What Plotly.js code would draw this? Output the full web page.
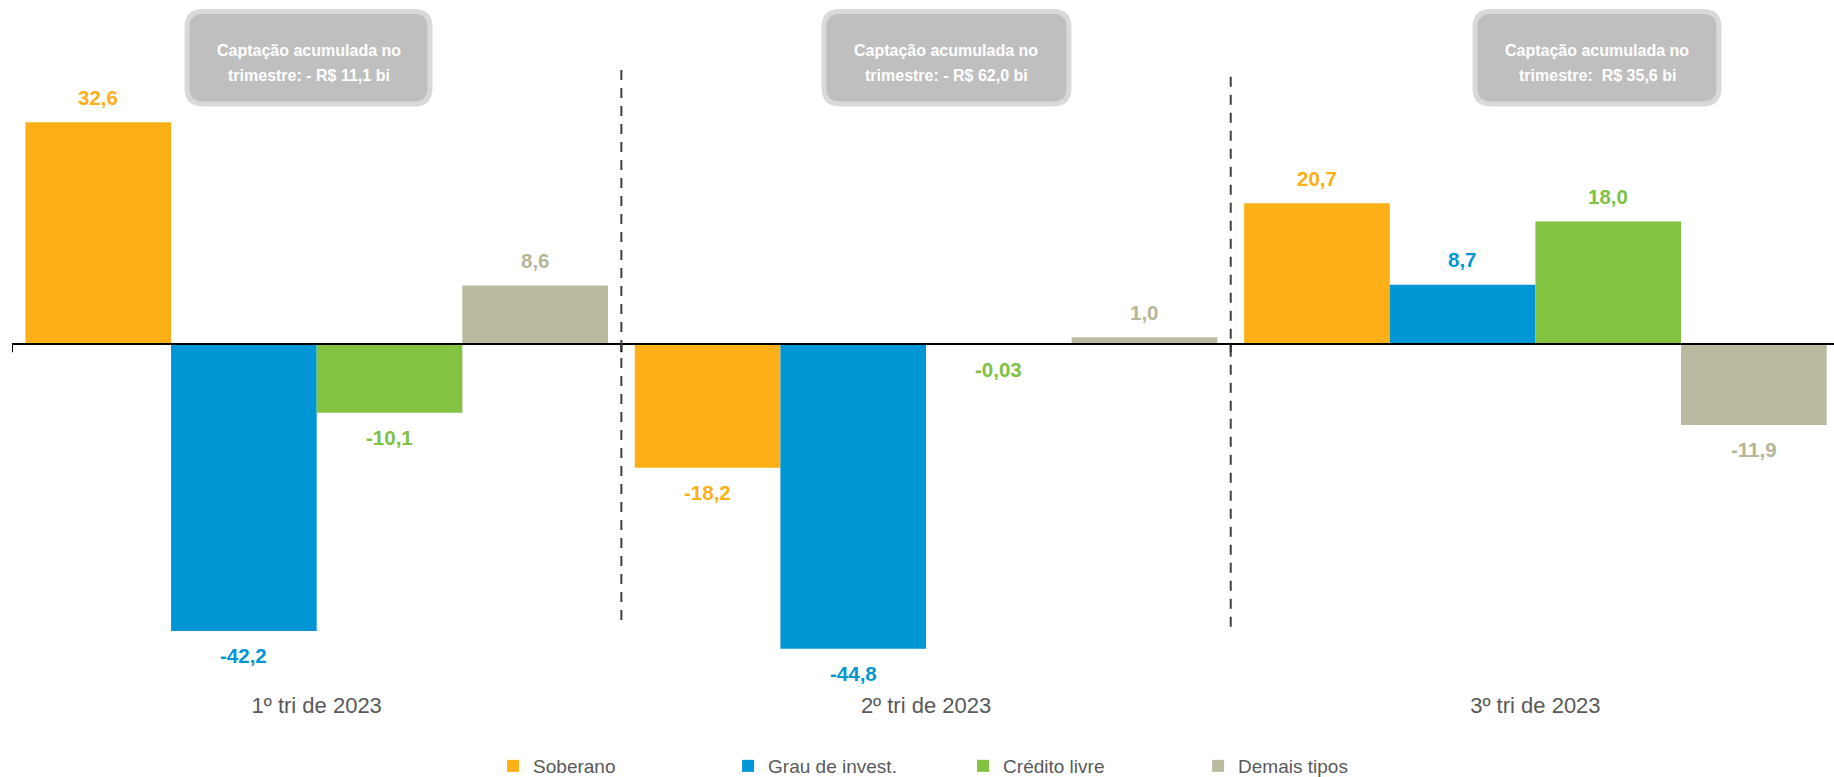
<!DOCTYPE html>
<html>
<head>
<meta charset="utf-8">
<script src="https://cdn.plot.ly/plotly-3.0.1.min.js"></script>
<style>html,body{margin:0;padding:0;background:#fff;}#chart{width:1834px;height:777px;}</style>
</head>
<body>
<div id="chart"></div>
<script>
// ---- data ----
const categories = ["1º tri de 2023", "2º tri de 2023", "3º tri de 2023"];
const seriesNames = ["Soberano", "Grau de invest.", "Crédito livre", "Demais tipos"];
const soberano = [32.6, -18.2, 20.7];
const grauInvest = [-42.2, -44.8, 8.7];
const creditoLivre = [-10.1, -0.03, 18.0];
const demaisTipos = [8.6, 1.0, -11.9];
const boxLine1 = ["Captação acumulada no", "Captação acumulada no", "Captação acumulada no"];
const boxLine2 = ["trimestre: - R$ 11,1 bi", "trimestre: - R$ 62,0 bi", "trimestre:\u00a0 R$ 35,6 bi"];

// ---- styles ----
const colors = ["#FCAF17", "#0096D6", "#82C341", "#BABAA0"];
const labelColors = ["#FCAF17", "#0096D6", "#7DC242", "#B5B598"];
const FONT = "Liberation Sans, Arial, sans-serif";
const seriesValues = [soberano, grauInvest, creditoLivre, demaisTipos];

const W = 1834, H = 777;
const M = {l: 12, r: 0, t: 20, b: 87};
const PW = W - M.l - M.r, PH = H - M.t - M.b;
const px2x = p => (p - M.l) / PW;
const px2y = p => 1 - (p - M.t) / PH;

const bargap = 0.044;
const nS = seriesValues.length;
const barW = (1 - bargap) / nS;

function fmt(v) {
  const s = (Math.abs(v) < 0.1 && v !== 0) ? v.toFixed(2) : v.toFixed(1);
  return s.replace('.', ',');
}

const traces = seriesValues.map((vals, i) => ({
  type: 'bar',
  name: seriesNames[i],
  x: categories,
  y: vals,
  marker: {color: colors[i]},
  hoverinfo: 'skip'
}));

const annotations = [];
seriesValues.forEach((vals, i) => {
  vals.forEach((v, c) => {
    annotations.push({
      xref: 'x', yref: 'y',
      x: c + (i - (nS - 1) / 2) * barW,
      y: v,
      yshift: v >= 0 ? 25 : -25,
      text: '<b>' + fmt(v) + '</b>',
      showarrow: false,
      font: {family: FONT, size: 20.5, color: labelColors[i]},
      xanchor: 'center', yanchor: 'middle'
    });
  });
});

// annotation boxes (pixel layout -> paper)
const boxes = [[187, 430], [824, 1069], [1475, 1719]];
const boxTop = 11.5, boxBot = 104, rad = 16;
const shapes = [];
boxes.forEach((b, k) => {
  const [x0, x1] = b, y0 = boxTop, y1 = boxBot;
  const P = (x, y) => px2x(x).toFixed(5) + ',' + px2y(y).toFixed(5);
  const path = 'M' + P(x0 + rad, y0) + ' L' + P(x1 - rad, y0) +
    ' Q' + P(x1, y0) + ' ' + P(x1, y0 + rad) +
    ' L' + P(x1, y1 - rad) +
    ' Q' + P(x1, y1) + ' ' + P(x1 - rad, y1) +
    ' L' + P(x0 + rad, y1) +
    ' Q' + P(x0, y1) + ' ' + P(x0, y1 - rad) +
    ' L' + P(x0, y0 + rad) +
    ' Q' + P(x0, y0) + ' ' + P(x0 + rad, y0) + ' Z';
  shapes.push({type: 'path', xref: 'paper', yref: 'paper', path: path,
    fillcolor: '#BFBFBF', line: {color: '#D9D9D9', width: 5}, layer: 'above'});
  const cx = px2x((x0 + x1) / 2);
  annotations.push({xref: 'paper', yref: 'paper', x: cx, y: px2y(51), text: '<b>' + boxLine1[k] + '</b>',
    showarrow: false, xanchor: 'center', yanchor: 'middle', font: {family: FONT, size: 16, color: '#FFFFFF'}});
  annotations.push({xref: 'paper', yref: 'paper', x: cx, y: px2y(75), text: '<b>' + boxLine2[k] + '</b>',
    showarrow: false, xanchor: 'center', yanchor: 'middle', font: {family: FONT, size: 16, color: '#FFFFFF'}});
});

// zero axis line with boundary ticks
shapes.push({type: 'line', xref: 'paper', yref: 'y', x0: 0, x1: 1, y0: 0, y1: 0,
  line: {color: '#000000', width: 2}, layer: 'above'});
[-0.5, 0.5, 1.5].forEach(xb => {
  shapes.push({type: 'line', xref: 'x', yref: 'y', x0: xb, x1: xb, y0: 0, y1: -1.2,
    line: {color: '#000000', width: 2}, layer: 'above'});
});
// dashed separators
shapes.push({type: 'line', xref: 'x', yref: 'y', x0: 0.5, x1: 0.5, y0: 40.3, y1: -40.6,
  line: {color: '#404040', width: 2, dash: '10px,8px'}});
shapes.push({type: 'line', xref: 'x', yref: 'y', x0: 1.5, x1: 1.5, y0: 39.3, y1: -41.8,
  line: {color: '#404040', width: 2, dash: '10px,8px'}});

const layout = {
  width: W, height: H,
  margin: {l: M.l, r: M.r, t: M.t, b: M.b, autoexpand: false},
  paper_bgcolor: '#FFFFFF', plot_bgcolor: '#FFFFFF',
  barmode: 'group', bargap: bargap, bargroupgap: 0,
  font: {family: FONT, color: '#595959'},
  xaxis: {type: 'category', range: [-0.5, 2.49], showgrid: false, zeroline: false, showline: false,
    ticks: '', tickfont: {family: FONT, size: 22, color: '#595959'}, fixedrange: true},
  yaxis: {range: [-50.88, 47.65], showgrid: false, zeroline: false, showline: false,
    showticklabels: false, ticks: '', fixedrange: true},
  showlegend: true,
  legend: {orientation: 'h', x: 0.522, xanchor: 'center', y: px2y(766), yanchor: 'middle',
    entrywidth: 190, entrywidthmode: 'pixels',
    font: {family: FONT, size: 19, color: '#595959'}, bgcolor: 'rgba(0,0,0,0)'},
  shapes: shapes,
  annotations: annotations
};

Plotly.newPlot('chart', traces, layout, {displayModeBar: false, staticPlot: true});
</script>
</body>
</html>
